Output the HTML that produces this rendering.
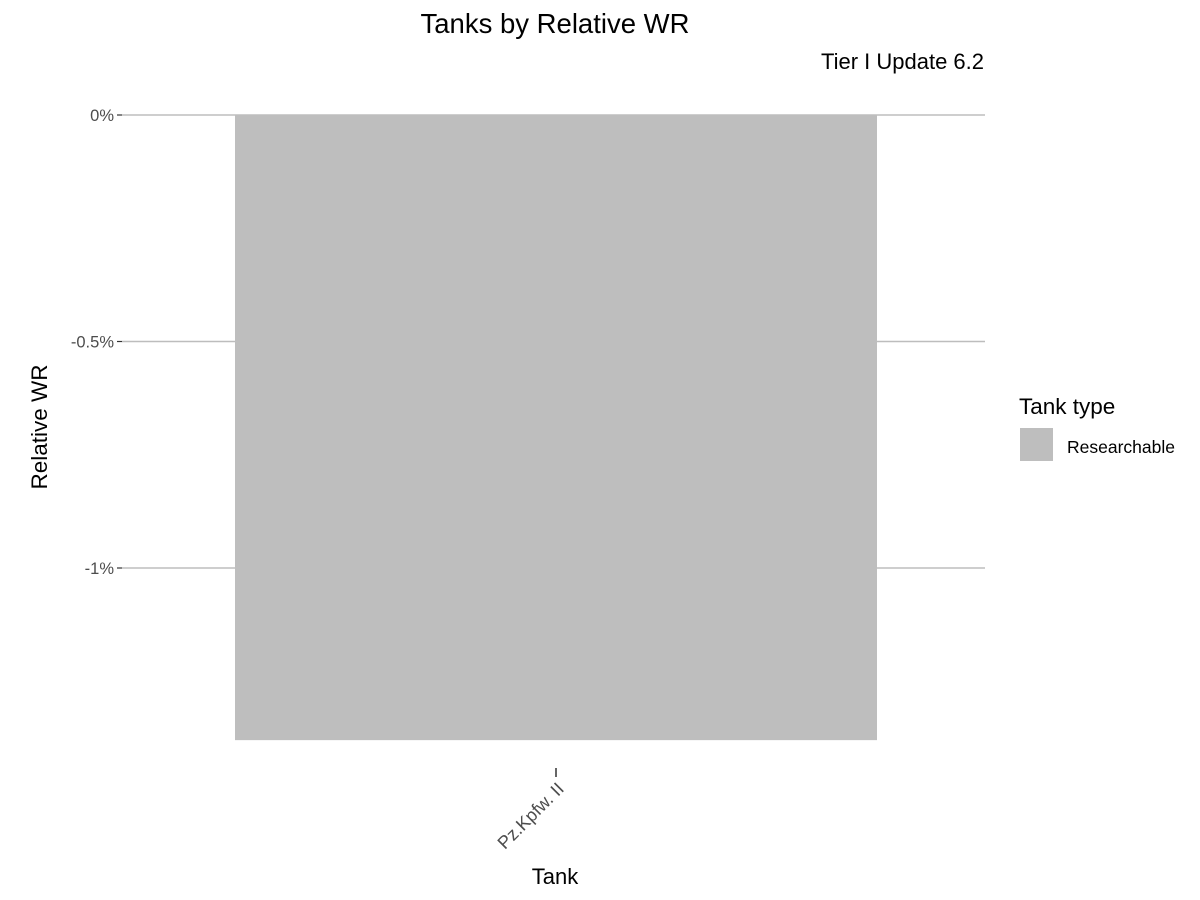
<!DOCTYPE html>
<html><head><meta charset="utf-8"><style>body{margin:0;background:#fff}svg{display:block;font-family:"Liberation Sans",Arial,sans-serif}</style></head>
<body>
<svg id="chart" width="1200" height="900" viewBox="0 0 1200 900">
<text x="555" y="33" font-size="27.5" text-anchor="middle" fill="#000">Tanks by Relative WR</text>
<text x="984" y="69" font-size="22" text-anchor="end" fill="#000">Tier I Update 6.2</text>
<g id="grid"></g>
<g id="bars"></g>
<g id="yaxis"></g>
<g id="xaxis"></g>
<text transform="translate(47,427) rotate(-90)" font-size="22.5" text-anchor="middle">Relative WR</text>
<text x="555" y="884" font-size="22" text-anchor="middle">Tank</text>
<g>
<text x="1019" y="414" font-size="22.5">Tank type</text>
<rect x="1020" y="428" width="33" height="33" fill="#bebebe"/>
<text x="1067" y="453" font-size="17.5">Researchable</text>
</g>
</svg>
<script>
const categories = ["Pz.Kpfw. II"];
const values = [-1.38];
const yTicks = [0, -0.5, -1];
const yTickLabels = ["0%", "-0.5%", "-1%"];
const NS = "http://www.w3.org/2000/svg";
const x0 = 122, x1 = 985;
function y(v){ return 115 + (0 - v) * 453; }
const band = (x1 - x0) / categories.length;
function xc(i){ return 235 + 321 + i * band; }
function mk(t, a, p){ const e = document.createElementNS(NS, t); for (const k in a) e.setAttribute(k, a[k]); p.appendChild(e); return e; }
const grid = document.getElementById('grid'), yax = document.getElementById('yaxis'), bars = document.getElementById('bars'), xax = document.getElementById('xaxis');
yTicks.forEach((t, i) => {
  const g = mk('line', {x1: x0, x2: x1, y1: y(t), y2: y(t), stroke: '#bdbdbd', 'stroke-width': 1.5}, grid);
  
  
  const tk = mk('line', {x1: 117, x2: 122, y1: y(t), y2: y(t), stroke: '#333', 'stroke-width': 1.2}, yax);
  
  
  const l = mk('text', {x: 114, y: y(t) + 6, 'font-size': 16.5, 'text-anchor': 'end', fill: '#4d4d4d'}, yax);
  l.textContent = yTickLabels[i];
  
  
});
categories.forEach((c, i) => {
  const w = 642, cx = xc(i), v = values[i];
  const b = mk('rect', {x: cx - w / 2, y: Math.min(y(0), y(v)), width: w, height: Math.abs(y(v) - y(0)), fill: '#bebebe'}, bars);
  
  
  const tk = mk('line', {x1: cx, x2: cx, y1: 768, y2: 777, stroke: '#333', 'stroke-width': 1.5}, xax);
  
  
  const l = mk('text', {transform: `translate(${cx + 9},${790}) rotate(-45)`, 'font-size': 18, 'text-anchor': 'end', fill: '#4d4d4d'}, xax);
  l.textContent = c;
  
  
});
</script>
</body></html>
